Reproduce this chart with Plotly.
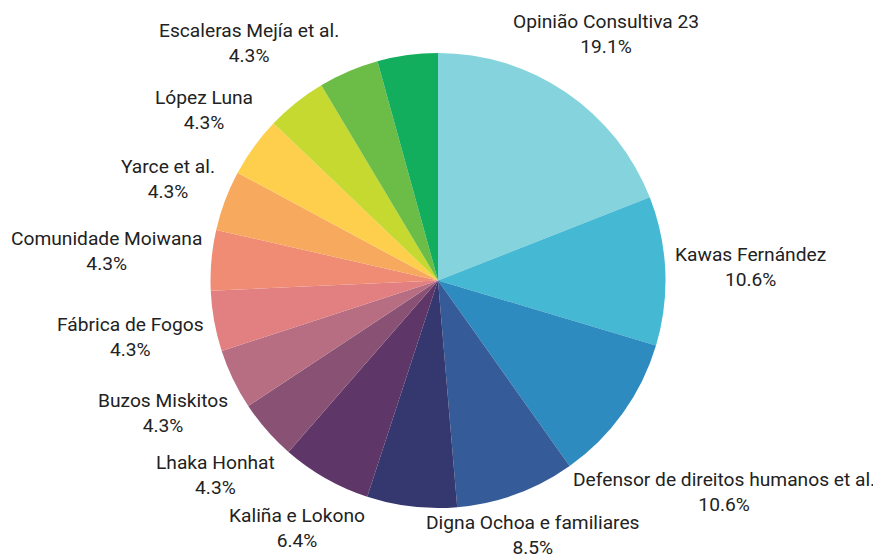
import math
import plotly.graph_objects as go

labels = [
    "Opinião Consultiva 23",
    "Kawas Fernández",
    "Defensor de direitos humanos et al.",
    "Digna Ochoa e familiares",
    "Caso sem rótulo A",
    "Kaliña e Lokono",
    "Lhaka Honhat",
    "Buzos Miskitos",
    "Fábrica de Fogos",
    "Comunidade Moiwana",
    "Yarce et al.",
    "López Luna",
    "Escaleras Mejía et al.",
    "Caso sem rótulo B",
    "Caso sem rótulo C",
]
values = [19.1, 10.6, 10.6, 8.5, 6.4, 6.4, 4.3, 4.3, 4.3, 4.3, 4.3, 4.3, 4.3, 4.3, 4.3]
show_label = [True, True, True, True, False, True, True, True, True, True, True, True, True, False, False]
colors = [
    "#85D3DC", "#45B8D3", "#2E8BBF", "#355C98", "#35376F",
    "#5E3668", "#895274", "#B76E82", "#E27F80", "#F08C74",
    "#F7A95E", "#FDCF4C", "#C5D930", "#6CBD47", "#12AE5E",
]

# ---- layout constants (figure pixels) ----
W, H = 881, 559
VIS_W, VIS_H = 868, 550   # part of the figure safely visible in the window (page body offset)
FONT = "Roboto"
FS = 19.2
PIE_CX, PIE_CY, PIE_R = 430.0, 272.5, 227.5
GAP = 8.5          # distance between pie edge and nearest point of a label box
HALF_BOX_H = 23.0
WIDTH_SCALE = 1.03

DOM_X = [(PIE_CX - PIE_R - 20) / W, (PIE_CX + PIE_R + 20) / W]
DOM_Y = [1 - (PIE_CY + PIE_R) / H, 1 - (PIE_CY - PIE_R) / H]

# approximate Roboto advance widths (units per em = 2048)
ADV = {
    " ": 498, "a": 1088, "b": 1120, "c": 1044, "d": 1126, "e": 1058, "f": 694,
    "g": 1120, "h": 1102, "i": 486, "j": 478, "k": 1014, "l": 486, "m": 1752,
    "n": 1104, "o": 1140, "p": 1120, "q": 1126, "r": 678, "s": 1032, "t": 654,
    "u": 1102, "v": 968, "w": 1502, "x": 990, "y": 946, "z": 990,
    "B": 1260, "C": 1306, "D": 1314, "E": 1134, "F": 1116, "H": 1426,
    "K": 1256, "L": 1100, "M": 1745, "O": 1386, "Y": 1232,
    ".": 527, "%": 1466,
}
BASE = {"ã": "a", "á": "a", "é": "e", "í": "i", "ó": "o", "ñ": "n"}


def text_width(s):
    tot = 0
    for ch in s:
        ch = BASE.get(ch, ch)
        tot += 1150 if ch.isdigit() else ADV.get(ch, 1100)
    return tot / 2048 * FS * WIDTH_SCALE


fig = go.Figure(
    go.Pie(
        labels=labels,
        values=values,
        sort=False,
        direction="clockwise",
        rotation=0,
        marker=dict(colors=colors, line=dict(width=0)),
        textinfo="none",
        showlegend=False,
        automargin=False,
        domain=dict(x=DOM_X, y=DOM_Y),
    )
)

# pie geometry exactly as Plotly lays it out (margins are zero)
cx = W * (DOM_X[0] + DOM_X[1]) / 2
cy = H * (1 - (DOM_Y[0] + DOM_Y[1]) / 2)
r = min(W * (DOM_X[1] - DOM_X[0]), H * (DOM_Y[1] - DOM_Y[0])) / 2
R0 = r + GAP

total = sum(values)
annotations = []
cum = 0.0
for lab, val, show in zip(labels, values, show_label):
    mid = (cum + val / 2) / total * 2 * math.pi
    cum += val
    if not show:
        continue
    pct = f"{val:.1f}%"
    a = max(text_width(lab), text_width(pct)) / 2
    b = HALF_BOX_H
    ux, uy = math.sin(mid), -math.cos(mid)  # screen coords (y down)
    lo, hi = 0.0, 1000.0
    for _ in range(60):
        t = (lo + hi) / 2
        dx = max(abs(t * ux) - a, 0)
        dy = max(abs(t * uy) - b, 0)
        if math.hypot(dx, dy) < R0:
            lo = t
        else:
            hi = t
    px_ = cx + t * ux
    py_ = cy + t * uy
    # keep the label inside the visible page
    px_ = min(max(px_, a + 2), VIS_W - a)
    py_ = min(max(py_, b + 2), VIS_H - b)
    annotations.append(
        dict(
            x=px_ / W, y=1 - py_ / H, xref="paper", yref="paper",
            xanchor="center", yanchor="middle",
            text=f"{lab}<br>{pct}", align="center", showarrow=False,
            font=dict(family=FONT, size=FS, color="#222222"),
        )
    )

fig.update_layout(
    width=W,
    height=H,
    margin=dict(l=0, r=0, t=0, b=0),
    paper_bgcolor="white",
    plot_bgcolor="white",
    annotations=annotations,
)

fig.write_html("out.html")
